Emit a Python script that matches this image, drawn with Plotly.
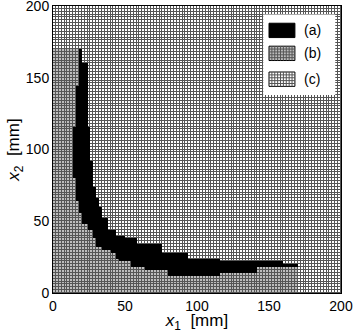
import numpy as np
import plotly.graph_objects as go

# 2 mm cells over a 200 x 200 mm square
cell = 2
extent = 200
region_max = 170   # gray/black region stops here in x1 and x2
ridge_x = 18       # columns left of this are gray above the black band

# black band, staircase (start of each run in x1 [mm])
top_x = [14, 16, 18, 20, 24, 26, 28, 30, 32, 34, 38, 44, 50, 58, 76, 94, 116, 160]
top_y = [116, 144, 170, 160, 116, 92, 74, 66, 60, 52, 44, 40, 38, 34, 28, 24, 22, 20]
bot_x = [14, 16, 18, 20, 24, 28, 30, 34, 40, 44, 46, 54, 64, 80, 116, 142]
bot_y = [80, 64, 56, 48, 44, 38, 32, 30, 28, 24, 22, 18, 16, 12, 14, 18]

labels = ["(a)", "(b)", "(c)"]
colors = {"a": "black", "b": "#bdbdbd", "c": "white"}
line_col = "#555555"


def step(xs, ys, x):
    i = np.searchsorted(xs, x, side="right") - 1
    return None if i < 0 else ys[i]


edges = np.arange(0, extent, cell)
centers = edges + cell / 2
z = np.zeros((len(edges), len(edges)))
for j, y in enumerate(edges):
    for i, x in enumerate(edges):
        if x >= region_max or y >= region_max:
            continue
        lo = step(bot_x, bot_y, x)
        hi = step(top_x, top_y, x)
        if lo is None:
            z[j, i] = 1
        elif lo <= y < hi:
            z[j, i] = 2
        elif y < lo or x < ridge_x:
            z[j, i] = 1

grid_z = np.where(z == 2, 1, z)
band_z = np.where(z == 2, 1.0, np.nan)

fig = go.Figure()
fig.add_trace(go.Heatmap(x=centers, y=centers, z=grid_z, zmin=0, zmax=1,
                         colorscale=[[0, colors["c"]], [1, colors["b"]]],
                         showscale=False, xgap=1, ygap=1, hoverinfo="skip"))
fig.add_trace(go.Heatmap(x=centers, y=centers, z=band_z, zmin=0, zmax=1,
                         colorscale=[[0, colors["a"]], [1, colors["a"]]],
                         showscale=False, hoverinfo="skip"))

# hand made legend box with gridded swatches
shapes = [dict(type="rect", xref="x", yref="y", x0=146, x1=196, y0=138, y1=194,
               fillcolor="white", line=dict(width=0), layer="above")]
sw_y = [178, 162, 144]
for k, key in enumerate(["a", "b", "c"]):
    y0 = sw_y[k]
    shapes.append(dict(type="rect", xref="x", yref="y", x0=150, x1=168, y0=y0, y1=y0 + 10,
                       fillcolor=colors[key], line=dict(color="black", width=1), layer="above"))
    if key != "a":
        p = ""
        for gx in range(152, 168, 2):
            p += f"M{gx},{y0} L{gx},{y0 + 10} "
        for gy in range(y0 + 2, y0 + 10, 2):
            p += f"M150,{gy} L168,{gy} "
        shapes.append(dict(type="path", xref="x", yref="y", path=p,
                           line=dict(color=line_col, width=1), layer="above"))
    fig.add_annotation(x=173, y=y0 + 5, text=labels[k], showarrow=False,
                       xanchor="left", font=dict(size=14, color="black"))

fig.update_layout(
    width=354, height=333,
    margin=dict(l=53, r=13, t=6, b=40),
    paper_bgcolor="white", plot_bgcolor=line_col,
    font=dict(family="Liberation Sans, Arial", size=14, color="black"),
    shapes=shapes,
    showlegend=False,
)
fig.update_xaxes(range=[0, 200.001], tickvals=[0, 50, 100, 150, 200], showgrid=False,
                 zeroline=False, showline=True, mirror=True, linecolor="black",
                 ticks="", automargin=False, ticklabeloverflow="allow",
                 title=dict(text="<i>x</i><sub>1</sub>  [mm]", standoff=0))
fig.update_yaxes(range=[0, 200.001], tickvals=[0, 50, 100, 150, 200], showgrid=False,
                 zeroline=False, showline=True, mirror=True, linecolor="black",
                 ticks="", automargin=False, ticklabeloverflow="allow",
                 title=dict(text="<i>x</i><sub>2</sub>  [mm]", standoff=0))

fig.write_html("out.html", config={"displayModeBar": False},
               post_script="document.body.style.margin='0px';")
